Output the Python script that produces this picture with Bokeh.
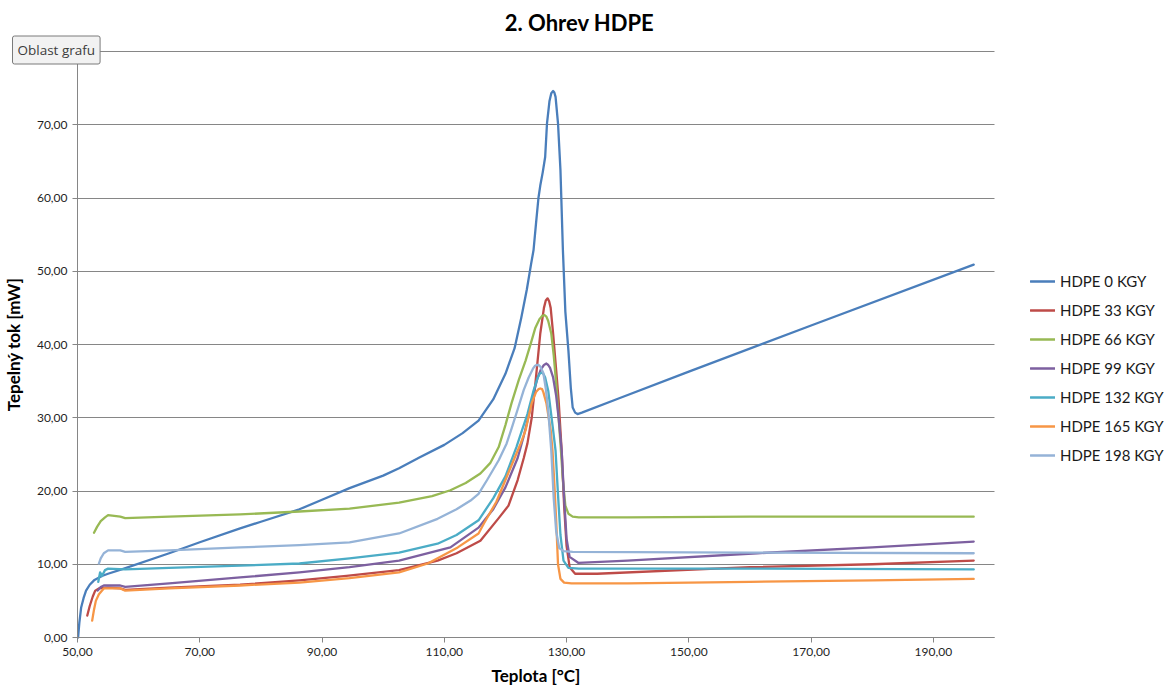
from bokeh.plotting import figure
from bokeh.models import Range1d, FixedTicker, Legend, LegendItem, Label
from bokeh.embed import file_html
from bokeh.resources import INLINE

# ---------------- data ----------------
series_names = ["HDPE 0 KGY", "HDPE 33 KGY", "HDPE 66 KGY", "HDPE 99 KGY",
                "HDPE 132 KGY", "HDPE 165 KGY", "HDPE 198 KGY"]
series_colors = ["#4A7EBB", "#BE4B48", "#98B954", "#7D60A0",
                 "#4BACC6", "#F79646", "#95B3D7"]

t_0 = [50.1, 50.3, 50.6, 51.0, 51.4, 52.0, 52.7, 54.0, 55.0, 57.6, 65.0, 70.0, 76.6, 80.0,
       86.3, 90.0, 94.5, 100.0, 102.6, 106.0, 110.0, 113.0, 115.6, 118.0, 120.0, 121.5,
       122.6, 123.5, 124.2, 124.6, 125.0, 125.4, 125.7, 126.1, 126.5, 126.8, 127.2, 127.5,
       127.8, 128.0, 128.2, 128.6, 129.0, 129.4, 129.8, 130.3, 130.7, 131.0, 131.4, 131.8,
       132.5, 138.4, 150.0, 170.0, 196.6]
q_0 = [0.0, 2.0, 4.1, 5.4, 6.4, 7.2, 7.8, 8.4, 8.7, 9.4, 11.5, 13.0, 14.9, 15.8,
       17.5, 18.8, 20.4, 22.1, 23.1, 24.6, 26.3, 27.9, 29.6, 32.5, 36.0, 39.5,
       43.7, 47.5, 51.0, 52.9, 56.5, 60.0, 61.7, 63.5, 65.6, 70.2, 73.2, 74.3,
       74.6, 74.4, 73.8, 70.2, 63.8, 52.9, 44.5, 39.2, 34.0, 31.4, 30.7, 30.5,
       30.7, 32.6, 36.3, 42.6, 50.9]

t_33 = [51.6, 52.0, 52.5, 52.9, 53.5, 55.0, 57.0, 57.8, 65.0, 76.6, 86.3, 94.0, 102.6, 108.9,
        112.0, 115.9, 118.9, 120.5, 122.0, 123.0, 123.6, 124.3, 124.9, 125.7, 126.3, 126.6,
        126.9, 127.15, 127.4, 127.8, 128.3, 128.7, 129.2, 129.6, 130.0, 130.5, 131.4, 135.0,
        160.0, 180.0, 196.6]
q_33 = [3.0, 4.3, 5.6, 6.4, 6.7, 6.8, 6.7, 6.5, 6.8, 7.2, 7.8, 8.4, 9.2, 10.5,
        11.5, 13.2, 16.3, 18.0, 21.5, 24.5, 26.5, 30.0, 34.7, 41.5, 45.0, 46.0,
        46.3, 45.9, 45.0, 41.5, 36.5, 32.4, 25.5, 18.0, 12.5, 9.6, 8.7, 8.7,
        9.6, 10.0, 10.5]

t_66 = [52.7, 53.2, 53.8, 54.5, 55.0, 56.0, 57.0, 57.8, 65.0, 76.6, 86.3, 94.5, 102.6, 108.0,
        111.0, 113.5, 115.9, 117.5, 118.9, 120.0, 121.0, 122.2, 123.3, 124.2, 124.9, 125.6,
        126.0, 126.4, 126.7, 127.0, 127.5, 127.9, 128.3, 128.7, 129.0, 129.4, 129.8, 130.3,
        131.0, 132.0, 140.0, 160.0, 180.0, 196.6]
q_66 = [14.3, 15.1, 15.9, 16.4, 16.7, 16.6, 16.5, 16.3, 16.5, 16.8, 17.2, 17.6, 18.4, 19.3,
        20.1, 21.1, 22.4, 23.8, 26.0, 29.0, 32.0, 35.2, 37.8, 40.3, 42.3, 43.5,
        43.9, 44.0, 43.8, 43.2, 41.5, 38.5, 34.7, 30.0, 26.5, 21.5, 18.0, 16.9,
        16.5, 16.4, 16.4, 16.5, 16.5, 16.5]

t_99 = [53.3, 53.8, 54.3, 57.0, 57.8, 65.0, 76.6, 86.3, 94.5, 102.6, 111.0, 115.6, 118.0,
        120.0, 122.0, 123.0, 124.0, 124.6, 125.2, 125.8, 126.3, 126.7, 127.0, 127.3, 127.8,
        128.3, 128.7, 129.2, 129.6, 130.0, 130.5, 131.9, 140.0, 161.2, 180.0, 196.6]
q_99 = [6.4, 6.9, 7.1, 7.1, 6.9, 7.4, 8.2, 8.9, 9.6, 10.5, 12.3, 15.0, 17.5,
        20.5, 24.5, 27.5, 31.0, 33.3, 35.3, 36.6, 37.2, 37.4, 37.2, 36.8, 35.5,
        33.0, 30.0, 25.5, 19.0, 13.5, 11.0, 10.2, 10.5, 11.5, 12.3, 13.1]

t_132 = [53.4, 53.7, 54.0, 54.5, 55.0, 57.8, 65.0, 76.6, 86.3, 94.5, 102.6, 108.9, 112.0,
         115.6, 118.0, 120.0, 121.8, 122.8, 123.6, 124.6, 125.3, 125.6, 125.9, 126.2, 126.5,
         127.0, 127.4, 127.8, 128.2, 128.6, 129.0, 129.5, 130.3, 132.0, 160.0, 196.6]
q_132 = [7.6, 8.9, 8.4, 9.2, 9.4, 9.3, 9.5, 9.8, 10.1, 10.8, 11.6, 12.8, 14.0,
         16.0, 19.0, 22.0, 26.0, 28.5, 30.5, 33.7, 35.5, 36.0, 36.2, 36.0, 35.5,
         33.7, 31.0, 28.3, 25.5, 19.5, 14.0, 10.5, 9.5, 9.4, 9.4, 9.3]

t_165 = [52.4, 52.7, 53.0, 53.5, 54.3, 57.0, 57.8, 65.0, 76.6, 86.3, 94.5, 102.6, 107.3,
         112.2, 115.6, 116.5, 118.5, 120.0, 121.5, 122.5, 123.3, 124.3, 125.0, 125.4, 125.7,
         126.0, 126.2, 126.7, 127.4, 127.7, 128.0, 128.3, 128.6, 129.0, 129.6, 130.8, 140.0,
         160.0, 180.0, 196.6]
q_165 = [2.3, 3.8, 5.0, 5.9, 6.7, 6.7, 6.4, 6.7, 7.1, 7.5, 8.1, 8.9, 10.1,
         12.3, 14.2, 15.6, 18.5, 21.5, 24.5, 26.5, 28.3, 32.0, 33.5, 33.9, 34.0,
         33.9, 33.5, 32.0, 28.3, 25.5, 21.0, 16.0, 10.0, 8.0, 7.5, 7.4, 7.4,
         7.6, 7.8, 8.0]

t_198 = [53.5, 53.8, 54.3, 55.0, 57.0, 57.8, 65.0, 76.6, 86.3, 94.5, 102.6, 108.9, 112.0,
         114.3, 115.6, 117.0, 118.9, 120.2, 121.0, 122.1, 123.0, 123.8, 124.5, 124.8, 125.1,
         125.4, 125.7, 126.2, 126.6, 127.0, 127.5, 127.9, 128.3, 128.8, 129.5, 131.0, 160.0, 196.6]
q_198 = [10.1, 10.8, 11.5, 11.9, 11.9, 11.7, 11.9, 12.3, 12.6, 13.0, 14.2, 16.2, 17.5,
         18.7, 19.6, 21.5, 24.2, 26.5, 28.5, 31.4, 33.8, 35.5, 36.7, 37.05, 37.2,
         37.2, 37.0, 36.1, 34.0, 31.0, 25.5, 19.0, 14.5, 12.2, 11.8, 11.7, 11.6, 11.5]

x_ticks = [50, 70, 90, 110, 130, 150, 170, 190]
x_tick_labels = ["50,00", "70,00", "90,00", "110,00", "130,00", "150,00", "170,00", "190,00"]
y_ticks = [0, 10, 20, 30, 40, 50, 60, 70]
y_tick_labels = ["0,00", "10,00", "20,00", "30,00", "40,00", "50,00", "60,00", "70,00"]
y_grid_values = [0, 10, 20, 30, 40, 50, 60, 70, 80]

title_text = "2. Ohrev HDPE"
x_label = "Teplota [°C]"
y_label = "Tepelný tok [mW]"
tooltip_text = "Oblast grafu"

all_t = [t_0, t_33, t_66, t_99, t_132, t_165, t_198]
all_q = [q_0, q_33, q_66, q_99, q_132, q_165, q_198]

# ---------------- layout: frame = whole canvas, axes fixed inside ----------------
W, H = 1164, 685
X_MIN, X_MAX = 50, 200
Y_MIN, Y_MAX = 0, 80
PX_L, PX_R = 77, 994      # pixel positions of X_MIN / X_MAX
PX_B, PX_T = 637, 51      # pixel positions (from top) of Y_MIN / Y_MAX
sx = (PX_R - PX_L) / (X_MAX - X_MIN)
sy = (PX_B - PX_T) / (Y_MAX - Y_MIN)
x_range = Range1d(X_MIN - PX_L / sx, X_MAX + (W - PX_R) / sx)
y_range = Range1d(Y_MIN - (H - PX_B) / sy, Y_MAX + PX_T / sy)

def px_to_x(px):
    return X_MIN + (px - PX_L) / sx

def py_to_y(py):
    return Y_MIN + (PX_B - py) / sy

FONT = "Lato"
GRID = "#868686"

p = figure(width=W, height=H, output_backend="svg", toolbar_location=None,
           x_range=x_range, y_range=y_range,
           min_border_left=0, min_border_right=0, min_border_top=0, min_border_bottom=0)
p.outline_line_color = None
p.background_fill_color = "white"
p.border_fill_color = "white"

p.xaxis.fixed_location = Y_MIN
p.yaxis.fixed_location = X_MIN
p.xaxis.bounds = (X_MIN, X_MAX)
p.yaxis.bounds = (Y_MIN, Y_MAX)
p.xaxis.ticker = FixedTicker(ticks=x_ticks)
p.xaxis.major_label_overrides = {k: v for k, v in zip(x_ticks, x_tick_labels)}
p.yaxis.ticker = FixedTicker(ticks=y_ticks)
p.yaxis.major_label_overrides = {k: v for k, v in zip(y_ticks, y_tick_labels)}
for ax in (p.xaxis, p.yaxis):
    ax.axis_line_color = GRID
    ax.major_tick_line_color = GRID
    ax.major_tick_in = 0
    ax.major_tick_out = 5
    ax.minor_tick_line_color = None
    ax.major_label_text_font = FONT
    ax.major_label_text_font_size = "12px"
    ax.major_label_text_color = "#1f1f1f"
    ax.major_label_standoff = 5
    ax.axis_label_text_font = FONT
    ax.axis_label_text_font_size = "17px"
    ax.axis_label_text_font_style = "bold"
    ax.axis_label_text_color = "#000000"
p.xaxis.axis_label = x_label
p.yaxis.axis_label = y_label
p.xaxis.axis_label_standoff = 6
p.yaxis.axis_label_standoff = 10

p.xgrid.grid_line_color = None
p.ygrid.ticker = FixedTicker(ticks=y_grid_values)
p.ygrid.grid_line_color = GRID
p.ygrid.grid_line_width = 1
p.ygrid.bounds = (Y_MIN, Y_MAX)
if "cross_bounds" in p.ygrid[0].properties():
    p.ygrid.cross_bounds = (X_MIN, X_MAX)

renderers = []
for t, q, c in zip(all_t, all_q, series_colors):
    r = p.line(t, q, line_color=c, line_width=2.3, line_join="round", line_cap="round")
    renderers.append(r)

legend = Legend(items=[LegendItem(label=n, renderers=[r]) for n, r in zip(series_names, renderers)],
                location=(1030, 220), orientation="vertical",
                glyph_width=25, glyph_height=20, label_height=20, spacing=9,
                label_standoff=5, padding=0, margin=0,
                border_line_color=None, background_fill_alpha=0,
                label_text_font=FONT, label_text_font_size="15px", label_text_color="#1a1a1a")
p.add_layout(legend)

title = Label(x=px_to_x(579), y=py_to_y(22), text=title_text, text_align="center",
              text_baseline="middle", text_font=FONT, text_font_size="22px",
              text_font_style="bold", text_color="#000000")
p.add_layout(title)

tip = Label(x=px_to_x(12), y=py_to_y(49.5), text=tooltip_text, text_align="left",
            text_baseline="middle", text_font="Open Sans", text_font_size="13.5px",
            text_color="#3c3c3c", background_fill_color="#F2F2F2",
            border_line_color="#7a7a7a", padding=5, border_radius=2)
p.add_layout(tip)

open("out.html", "w").write(file_html(p, INLINE))
